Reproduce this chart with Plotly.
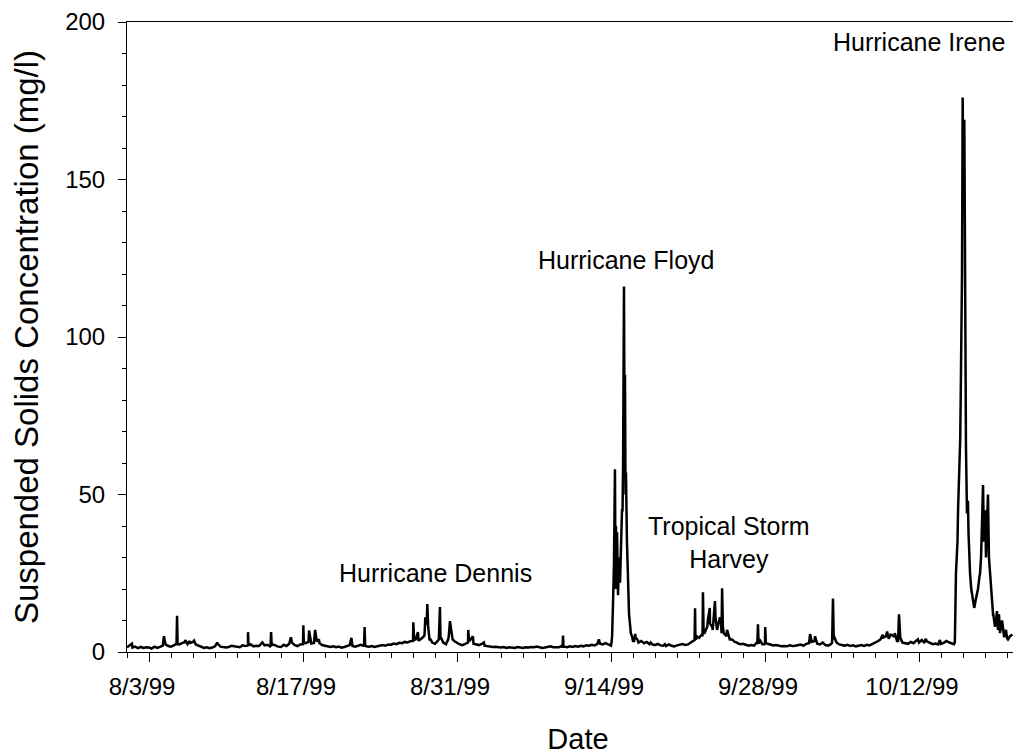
import numpy as np
import pandas as pd
import plotly.graph_objects as go

# ---------------- data ----------------
start = pd.Timestamp("1999-08-01 00:00")

# 6-hourly readings (mg/l) starting 1999-08-01 00:00
base_values = [
    1.5, 2.0, 1.4, 1.7,   # 8/1
    1.2, 1.6, 1.3, 1.5,   # 8/2
    1.4, 1.1, 1.7, 1.3,   # 8/3
    1.6, 2.0, 2.4, 1.9,   # 8/4
    1.7, 2.1, 2.6, 2.4,   # 8/5
    2.8, 3.1, 2.5, 2.9,   # 8/6
    3.2, 2.4, 2.0, 1.6,   # 8/7
    1.3, 1.5, 1.2, 1.4,   # 8/8
    1.8, 2.6, 1.7, 1.5,   # 8/9
    1.4, 1.6, 2.0, 1.8,   # 8/10
    1.7, 1.5, 2.1, 1.9,   # 8/11
    2.2, 2.4, 1.8, 2.0,   # 8/12
    1.9, 2.8, 2.1, 2.3,   # 8/13
    1.8, 2.4, 2.0, 1.7,   # 8/14
    1.6, 2.3, 1.9, 2.6,   # 8/15
    3.0, 2.2, 1.9, 2.4,   # 8/16
    2.5, 2.8, 3.2, 2.7,   # 8/17
    2.9, 3.4, 2.8, 2.2,   # 8/18
    2.0, 1.7, 1.6, 1.8,   # 8/19
    1.5, 1.7, 1.4, 1.6,   # 8/20
    1.8, 2.2, 1.9, 1.7,   # 8/21
    1.9, 2.3, 2.0, 1.8,   # 8/22
    1.7, 1.9, 1.6, 1.8,   # 8/23
    1.9, 2.2, 2.0, 2.4,   # 8/24
    2.3, 2.7, 2.5, 2.9,   # 8/25
    2.8, 3.2, 3.0, 3.4,   # 8/26
    3.5, 4.0, 3.6, 4.2,   # 8/27
    5.0, 9.0, 4.0, 3.0,   # 8/28
    2.6, 3.5, 4.0, 3.0,   # 8/29
    2.5, 5.0, 6.5, 3.5,   # 8/30
    2.8, 2.4, 2.2, 2.5,   # 8/31
    3.0, 4.0, 2.6, 2.3,   # 9/1
    2.2, 2.6, 2.0, 1.8,   # 9/2
    1.8, 1.6, 1.7, 1.5,   # 9/3
    1.4, 1.6, 1.3, 1.5,   # 9/4
    1.5, 1.3, 1.6, 1.4,   # 9/5
    1.3, 1.5, 1.4, 1.6,   # 9/6
    1.5, 1.7, 1.4, 1.3,   # 9/7
    1.4, 1.6, 1.8, 1.5,   # 9/8
    1.6, 1.5, 1.9, 1.7,   # 9/9
    1.5, 1.8, 1.6, 1.9,   # 9/10
    1.7, 2.0, 1.8, 2.1,   # 9/11
    2.0, 2.3, 2.1, 2.5,   # 9/12
    2.6, 2.4, 2.8, 2.3,   # 9/13
    2.0, 28.0, 25.0, 28.0,  # 9/14
    45.0, 80.0, 28.0, 8.0,  # 9/15
    3.5, 4.5, 3.0, 3.5,   # 9/16
    2.8, 3.2, 2.5, 2.4,   # 9/17
    2.2, 2.6, 2.1, 2.0,   # 9/18
    1.9, 2.4, 2.0, 1.8,   # 9/19
    2.1, 2.3, 2.5, 2.2,   # 9/20
    2.4, 3.0, 3.6, 4.2,   # 9/21
    4.5, 5.5, 6.0, 8.0,   # 9/22
    9.0, 7.0, 11.0, 9.0,  # 9/23
    10.0, 6.0, 5.0, 4.5,  # 9/24
    4.0, 3.2, 2.8, 2.5,   # 9/25
    2.6, 2.3, 2.0, 2.2,   # 9/26
    2.0, 3.0, 4.0, 2.5,   # 9/27
    3.0, 2.6, 2.3, 2.1,   # 9/28
    2.2, 2.0, 1.8, 1.9,   # 9/29
    1.8, 2.1, 1.9, 2.0,   # 9/30
    2.2, 2.4, 2.0, 2.6,   # 10/1
    2.8, 3.2, 3.5, 2.6,   # 10/2
    2.4, 3.0, 2.2, 2.0,   # 10/3
    2.5, 4.0, 3.0, 2.4,   # 10/4
    2.2, 2.0, 2.3, 1.9,   # 10/5
    2.1, 1.8, 2.0, 2.2,   # 10/6
    1.9, 2.3, 2.1, 2.5,   # 10/7
    2.8, 3.4, 4.0, 4.6,   # 10/8
    5.0, 4.2, 5.5, 4.8,   # 10/9
    3.5, 4.5, 3.0, 2.8,   # 10/10
    2.6, 3.2, 2.8, 3.6,   # 10/11
    3.0, 3.8, 2.9, 3.3,   # 10/12
    2.8, 2.5, 2.7, 2.4,   # 10/13
    2.6, 2.9, 3.5, 3.0,   # 10/14
    2.8, 3.0, 35.0, 68.0,   # 10/15
    155.0, 75.0, 38.0, 20.0,  # 10/16
    14.0, 18.0, 24.0, 45.0,   # 10/17
    45.0, 48.0, 22.0, 12.0,   # 10/18
    10.0, 11.0, 9.0, 5.0,     # 10/19
    4.5, 5.0, 5.5,            # 10/20
]

# short-lived readings between the 6-hourly ones (days after 1999-08-01)
event_day = [
    0.45, 3.36, 4.5, 4.55, 4.6, 5.3, 5.7, 6.1, 8.2,
    10.95, 11.0, 11.05, 12.3, 13.05, 13.1, 13.15, 14.9,
    15.95, 16.03, 16.08, 16.55, 17.1, 17.45, 20.4,
    21.55, 21.6, 21.65, 26.03, 26.1, 26.45,
    27.05, 27.12, 27.2, 27.3, 27.38, 27.6,
    28.35, 28.45, 28.55, 29.2, 29.36, 29.6,
    31.02, 31.1, 31.45, 32.45, 39.6, 39.64, 39.68, 42.9,
    # Hurricane Floyd
    44.05, 44.1, 44.18, 44.27, 44.36, 44.41, 44.45, 44.55, 44.64, 44.73,
    44.82, 44.91, 45.05, 45.1, 45.18, 45.23, 45.27, 45.32, 45.36, 45.45,
    45.55, 45.64, 45.8, 45.91, 46.1, 46.2, 46.4, 47.6, 48.9,
    # Tropical Storm Harvey
    51.6, 51.64, 51.68, 51.8, 52.32, 52.36, 52.42, 52.8, 52.98, 53.2,
    53.45, 53.64, 53.9, 54.05, 54.1, 54.17, 54.55, 54.8, 55.45,
    57.3, 57.36, 57.42, 57.95, 58.02, 58.08, 62.1, 62.55,
    64.1, 64.18, 64.27, 68.7, 69.1, 69.4, 69.8, 70.1, 70.18, 70.3,
    71.9, 72.6, 73.9,
    # Hurricane Irene
    75.18, 75.27, 75.36, 75.45, 75.55, 75.64, 75.73, 75.82, 75.91, 75.97,
    76.05, 76.12, 76.18, 76.23, 76.27, 76.36, 76.45, 76.55, 76.64, 76.82,
    77.02, 77.18, 77.36, 77.55, 77.64, 77.73, 77.82, 77.91, 78.02, 78.09,
    78.18, 78.27, 78.36, 78.45, 78.55, 78.73, 78.91, 79.09, 79.18, 79.27,
    79.36, 79.55, 79.73, 79.91, 80.09, 80.27,
]
event_values = [
    2.6, 5.0, 2.2, 11.5, 2.5, 3.8, 3.5, 3.6, 3.0,
    2.0, 6.3, 2.2, 3.0, 2.0, 6.3, 2.2, 4.7,
    2.5, 8.5, 3.0, 6.8, 7.0, 4.0, 4.5,
    2.0, 7.9, 2.2, 9.4, 3.8, 6.3,
    5.5, 11.0, 9.0, 15.2, 8.0, 4.0,
    4.0, 14.3, 4.5, 4.0, 9.8, 4.0,
    7.0, 3.5, 5.0, 3.0, 1.6, 5.2, 1.7, 4.0,
    # Hurricane Floyd
    3.0, 5.0, 15.0, 28.0, 58.0, 20.0, 40.0, 38.0, 18.0, 30.0,
    22.0, 35.0, 45.0, 60.0, 116.0, 70.0, 88.0, 50.0, 57.0, 35.0,
    20.0, 12.0, 6.0, 5.0, 3.5, 5.7, 4.0, 3.0, 2.5,
    # Tropical Storm Harvey
    3.8, 13.9, 4.0, 5.0, 5.0, 19.0, 6.0, 10.0, 14.0, 8.0,
    16.2, 7.0, 11.0, 6.0, 20.2, 8.0, 7.0, 4.0, 3.0,
    2.5, 8.8, 2.6, 2.5, 7.9, 2.8, 5.7, 5.0,
    3.0, 17.0, 5.0, 5.5, 6.5, 5.5, 6.0, 3.5, 12.0, 4.5,
    4.0, 4.2, 3.8,
    # Hurricane Irene
    2.5, 5.0, 25.0, 32.0, 45.0, 55.0, 67.0, 90.0, 120.0, 176.0,
    140.0, 169.0, 110.0, 90.0, 65.0, 44.0, 48.0, 30.0, 25.0, 18.0,
    14.0, 17.0, 20.0, 25.0, 30.0, 40.0, 53.0, 35.0, 45.0, 30.0,
    38.0, 50.0, 30.0, 25.0, 20.0, 12.0, 8.0, 13.0, 7.0, 12.0,
    6.0, 10.0, 5.0, 7.0, 4.0, 5.0,
]

tick_dates = ["1999-08-03", "1999-08-17", "1999-08-31", "1999-09-14", "1999-09-28", "1999-10-12"]
tick_text = ["8/3/99", "8/17/99", "8/31/99", "9/14/99", "9/28/99", "10/12/99"]

# ---------------- build series ----------------
base_t = start + pd.to_timedelta(np.arange(len(base_values)) * 6, unit="h")
ev_t = start + pd.to_timedelta(np.array(event_day), unit="D")
df = pd.concat([
    pd.DataFrame({"t": base_t, "v": base_values}),
    pd.DataFrame({"t": ev_t, "v": event_values}),
]).sort_values("t")

FONT = "Arial, Liberation Sans, sans-serif"

fig = go.Figure()
fig.add_trace(go.Scatter(x=df["t"], y=df["v"], mode="lines",
                         line=dict(color="black", width=2.5), showlegend=False))

DAY = 86400000
fig.update_xaxes(
    range=["1999-08-01 00:00", "1999-10-22 00:00"],
    tickmode="array", tickvals=tick_dates, ticktext=tick_text,
    ticks="outside", ticklen=9, tickwidth=1, tickcolor="black",
    minor=dict(ticks="outside", ticklen=5, tickwidth=1, tickcolor="black",
               dtick=2 * DAY, tick0="1999-08-01"),
    showline=True, linecolor="black", linewidth=1, mirror=True,
    showgrid=False, zeroline=False,
    tickfont=dict(family=FONT, size=24, color="black"),
    ticklabelshift=-7, ticklabelstandoff=4, ticklabeloverflow="allow",
    title=dict(text="Date", font=dict(family=FONT, size=29, color="black"), standoff=35),
)
fig.update_yaxes(
    range=[0, 200], tickmode="linear", tick0=0, dtick=50,
    ticks="outside", ticklen=8, tickwidth=1, tickcolor="black",
    minor=dict(ticks="outside", ticklen=4, tickwidth=1, tickcolor="black", dtick=10),
    showline=True, linecolor="black", linewidth=1, mirror=False,
    showgrid=False, zeroline=False,
    tickfont=dict(family=FONT, size=24, color="black"),
    ticklabelstandoff=8, ticklabeloverflow="allow",
    title=dict(text="Suspended Solids Concentration (mg/l)",
               font=dict(family=FONT, size=33, color="black"), standoff=20),
)

ann_font = dict(family=FONT, size=25, color="black")
for txt, xp, yp in [
    ("Hurricane Dennis", 0.342, 0.1248),
    ("Hurricane Floyd", 0.553, 0.6224),
    ("Tropical Storm<br>Harvey", 0.667, 0.1738),
    ("Hurricane Irene", 0.878, 0.968),
]:
    fig.add_annotation(text=txt, x=xp, y=yp, xref="paper", yref="paper",
                       xanchor="center", yanchor="middle", showarrow=False,
                       font=ann_font, align="center")

fig.update_layout(
    width=1021, height=747,
    margin=dict(l=119, r=0, t=12, b=102),
    paper_bgcolor="white", plot_bgcolor="white",
)

fig.write_html("out.html")
